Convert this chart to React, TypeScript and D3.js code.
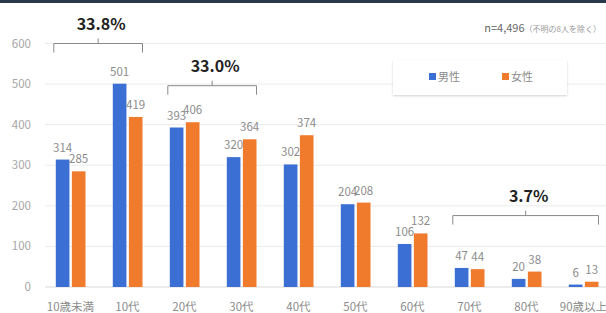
import { useEffect, useRef } from "react"
import * as d3 from "d3"

const categories = ["10歳未満", "10代", "20代", "30代", "40代", "50代", "60代", "70代", "80代", "90歳以上"]
const male = [314, 501, 393, 320, 302, 204, 106, 47, 20, 6]
const female = [285, 419, 406, 364, 374, 208, 132, 44, 38, 13]
const yTicks = [0, 100, 200, 300, 400, 500, 600]

// bracket annotations: label, first / last category, level in y units
const bracketLabels = ["33.8%", "33.0%", "3.7%"]
const bracketFrom = ["10歳未満", "20代", "70代"]
const bracketTo = ["10代", "30代", "90歳以上"]
const bracketLevel = [600, 496, 176]

const seriesNames = ["男性", "女性"]
const seriesColors = ["#3b6fd4", "#f07b2c"]

const W = 606
const H = 313
const FONT = "'Noto Sans CJK JP', 'Noto Sans', sans-serif"

const App = () => {
  const ref = useRef<SVGSVGElement>(null)

  useEffect(() => {
    document.body.style.margin = "0"
    const svg = d3.select(ref.current)
    svg.selectAll("*").remove()

    const x = d3.scaleBand().domain(categories).range([42.5, 612.5]).padding(0)
    const xs = d3.scaleBand().domain(["m", "f"]).range([13.3, 43]).paddingInner(0.15)
    const y = d3.scaleLinear().domain([0, 600]).range([287, 43.5])

    svg.append("rect").attr("width", W).attr("height", H).attr("fill", "#fff")
    svg.append("rect").attr("width", W).attr("height", 3).attr("fill", "#2b3a4a")

    // grid
    svg.append("g")
      .selectAll("line")
      .data(yTicks)
      .join("line")
      .attr("x1", 45).attr("x2", W)
      .attr("y1", (d) => y(d)).attr("y2", (d) => y(d))
      .attr("stroke", (d) => (d === 0 ? "#d9d9d9" : "#ebebeb"))
      .attr("stroke-width", 1)

    svg.append("g")
      .selectAll("text")
      .data(yTicks)
      .join("text")
      .attr("x", 31)
      .attr("y", (d) => y(d) + 4)
      .attr("text-anchor", "end")
      .attr("font-family", FONT)
      .attr("font-size", 11.5)
      .attr("fill", "#a6a6a6")
      .text((d) => d)

    // bars
    const rows = categories.map((c, i) => ({ c, m: male[i], f: female[i] }))
    const g = svg.append("g")
    const groups = g.selectAll("g").data(rows).join("g")
      .attr("transform", (d) => `translate(${x(d.c)},0)`)

    ;(["m", "f"] as const).forEach((k, si) => {
      groups.append("rect")
        .attr("x", xs(k)!)
        .attr("width", xs.bandwidth())
        .attr("y", (d) => y(d[k]))
        .attr("height", (d) => y(0) - y(d[k]))
        .attr("fill", seriesColors[si])
      groups.append("text")
        .attr("x", xs(k)! + xs.bandwidth() / 2)
        .attr("y", (d) => y(d[k]) - 8)
        .attr("text-anchor", "middle")
        .attr("font-family", FONT)
        .attr("font-size", 11.5)
        .attr("fill", "#8c8c8c")
        .text((d) => d[k])
    })

    svg.append("g")
      .selectAll("text")
      .data(categories)
      .join("text")
      .attr("x", (d) => x(d)! + 28)
      .attr("y", 311)
      .attr("text-anchor", "middle")
      .attr("font-family", FONT)
      .attr("font-size", 11.5)
      .attr("fill", "#8c8c8c")
      .text((d) => d)

    // brackets
    bracketLabels.forEach((label, i) => {
      const x1 = x(bracketFrom[i])! + xs("m")! - 2
      const x2 = x(bracketTo[i])! + xs("f")! + xs.bandwidth()
      const yy = y(bracketLevel[i])
      const cx = (x1 + x2) / 2
      svg.append("path")
        .attr("d", `M${x1},${yy + 9}V${yy}H${x2}V${yy + 9}M${cx},${yy}V${yy - 5}`)
        .attr("fill", "none")
        .attr("stroke", "#8a8a8a")
        .attr("stroke-width", 1)
      svg.append("text")
        .attr("x", cx + 3)
        .attr("y", yy - 14)
        .attr("text-anchor", "middle")
        .attr("font-family", FONT)
        .attr("font-weight", "bold")
        .attr("font-size", 16)
        .attr("fill", "#222")
        .text(label)
    })

    // n note
    const note = svg.append("text")
      .attr("x", 601)
      .attr("y", 32)
      .attr("text-anchor", "end")
      .attr("font-family", FONT)
      .attr("fill", "#666")
    note.append("tspan").attr("font-size", 11).text("n=4,496")
    note.append("tspan").attr("font-size", 8).attr("fill", "#999").text("（不明の8人を除く）")

    // legend
    const defs = svg.append("defs")
    const f = defs.append("filter").attr("id", "sh").attr("x", "-10%").attr("y", "-20%").attr("width", "120%").attr("height", "150%")
    f.append("feDropShadow").attr("dx", 0).attr("dy", 1).attr("stdDeviation", 1.2).attr("flood-color", "#000").attr("flood-opacity", 0.18)
    svg.append("rect")
      .attr("x", 393).attr("y", 60).attr("width", 174).attr("height", 35)
      .attr("fill", "#fff")
      .attr("filter", "url(#sh)")
    seriesNames.forEach((name, i) => {
      const lx = 429 + i * 73
      svg.append("rect").attr("x", lx).attr("y", 73).attr("width", 7).attr("height", 7).attr("fill", seriesColors[i])
      svg.append("text")
        .attr("x", lx + 9)
        .attr("y", 81)
        .attr("font-family", FONT)
        .attr("font-size", 11)
        .attr("fill", "#8c8c8c")
        .text(name)
    })
  }, [])

  return <svg ref={ref} width={W} height={H} style={{ display: "block" }} />
}

export default App
